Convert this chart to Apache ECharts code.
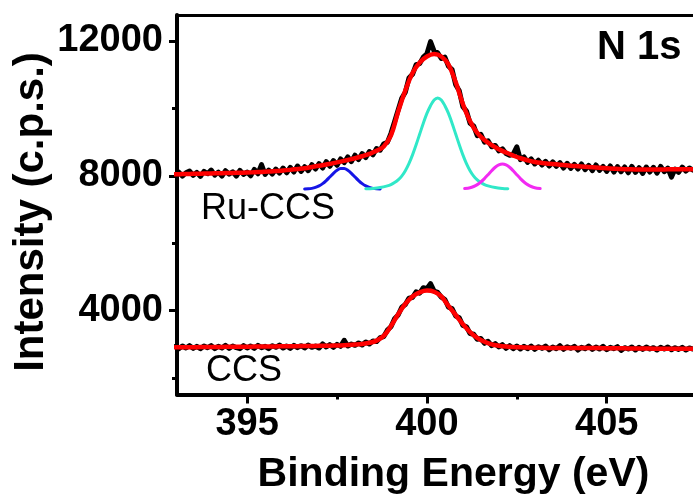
<!DOCTYPE html>
<html><head><meta charset="utf-8">
<script src="https://cdn.jsdelivr.net/npm/echarts@6/dist/echarts.min.js"></script>
<style>html,body{margin:0;padding:0;background:#fff}#c{width:693px;height:495px}</style>
</head><body><div id="c"></div>
<script>
// ---- data ----
const rawStart = 393.0, rawStep = 0.1;   // raw spectra sampling
const fitStart = 393.0, fitStep = 0.2;   // fitted envelopes sampling
const ruRaw = [8020,8110,7990,8090,8140,8010,8100,7980,8130,8060,
 8170,8020,8110,7990,8150,8050,8120,7990,8160,8040,
 8110,8000,8190,8060,8330,8040,8170,8050,8200,8080,
 8230,8090,8250,8110,8290,8130,8270,8150,8330,8200,
 8360,8230,8420,8280,8450,8310,8500,8390,8560,8420,
 8610,8480,8660,8540,8720,8620,8810,8760,8950,8990,
 9260,9600,9950,10300,10480,10900,11010,11300,11330,11520,
 11620,11980,11700,11650,11480,11520,11250,11150,10700,10520,
 10050,9920,9560,9480,9190,9230,9000,9040,8860,8900,
 8740,8800,8660,8610,8640,8860,8480,8560,8400,8500,
 8350,8460,8320,8430,8290,8410,8280,8390,8230,8370,
 8220,8340,8200,8350,8180,8310,8150,8320,8160,8280,
 8130,8290,8110,8270,8120,8260,8090,8280,8100,8240,
 8070,8260,8110,8250,8080,8280,8120,8230,7960,8200,
 8100,8260,8140,8230,8170];
const ccsRaw = [2930,2870,2950,2890,2960,2880,2940,2870,2950,2900,
 2960,2870,2940,2890,2970,2880,2950,2900,2870,2960,
 2890,2950,2880,2970,2900,2940,2870,2960,2910,2980,
 2890,2950,2880,2970,2900,2960,2890,2980,2910,2950,
 2890,3010,2920,2990,2910,3000,2940,3120,2950,3010,
 2970,3040,2980,3070,3010,3100,3080,3200,3230,3420,
 3520,3760,3870,4100,4180,4370,4390,4560,4520,4680,
 4650,4800,4580,4540,4400,4330,4100,4060,3840,3790,
 3560,3520,3320,3300,3150,3170,3030,3090,2960,3020,
 2920,2990,2880,2960,2870,2950,2860,2940,2870,2950,
 2850,2930,2880,2950,2840,2920,2870,2960,2850,2930,
 2880,2940,2830,2910,2870,2950,2850,2920,2860,2940,
 2840,2910,2870,2930,2820,2900,2860,2920,2830,2910,
 2850,2920,2860,2900,2830,2910,2860,2920,2840,2900,
 2850,2910,2830,2890,2860];
const ruFit = [8045,8050,8055,8060,8065,8070,8075,8080,8085,8090,
 8095,8105,8115,8125,8140,8155,8175,8200,8225,8260,
 8295,8335,8375,8420,8470,8520,8580,8650,8740,8870,
 9200,9900,10530,11050,11360,11540,11610,11540,11300,10780,
 10130,9620,9270,9060,8910,8790,8690,8600,8520,8460,
 8410,8380,8360,8340,8320,8300,8285,8270,8255,8240,
 8225,8212,8200,8195,8190,8190,8190,8190,8190,8195,
 8195,8195,8195];
const ccsFit = [2910,2912,2914,2916,2918,2920,2922,2924,2926,2928,
 2930,2932,2934,2936,2938,2940,2942,2945,2948,2951,
 2954,2958,2962,2968,2978,2992,3012,3045,3110,3250,
 3540,3890,4200,4420,4540,4595,4560,4420,4140,3870,
 3600,3360,3190,3075,3000,2960,2935,2920,2910,2903,
 2898,2895,2893,2892,2891,2891,2890,2889,2888,2887,
 2885,2883,2881,2879,2877,2875,2873,2871,2870,2868,
 2867,2866,2865];
const blueX = [396.6,396.7,396.8,396.9,397.0,397.1,397.2,397.3,397.4,397.5,397.6,397.7,397.8,397.9,398.0,398.1,398.2,398.3,398.4,398.5,398.6,398.7];
const blueY = [7606,7612,7627,7655,7700,7767,7859,7965,8073,8162,8213,8213,8162,8073,7965,7859,7767,7700,7655,7627,7612,7606];
const cyanX = [398.3,398.5,398.7,398.9,399.0,399.1,399.2,399.3,399.4,399.5,399.6,399.7,399.8,399.9,400.0,400.1,400.2,400.3,400.4,400.5,400.6,400.7,400.8,400.9,401.0,401.1,401.2,401.3,401.4,401.5,401.6,401.7,401.9,402.1,402.25];
const cyanY = [7615,7625,7650,7700,7740,7800,7880,7990,8150,8360,8620,8920,9240,9560,9850,10080,10250,10310,10250,10080,9850,9560,9240,8920,8620,8360,8150,7990,7880,7800,7740,7700,7650,7625,7615];
const magX = [401.05,401.2,401.3,401.4,401.5,401.6,401.7,401.8,401.9,402.0,402.1,402.2,402.3,402.4,402.5,402.6,402.7,402.8,402.9,403.0,403.15];
const magY = [7620,7645,7682,7737,7816,7916,8031,8149,8253,8325,8350,8325,8253,8149,8031,7916,7816,7737,7682,7645,7620];
const xMajor = [395, 400, 405];
const xMinor = [397.5, 402.5];
const yMajor = [4000, 8000, 12000];
const yMinor = [2000, 6000, 10000];
const xTitle = 'Binding Energy (eV)';
const yTitle = 'Intensity (c.p.s.)';
const panelLabel = 'N 1s';
const sampleLabels = ['Ru-CCS', 'CCS'];

// ---- build ----
const pairs = (start, step, ys) => ys.map((v, i) => [+(start + i * step).toFixed(3), v]);
const zip = (xs, ys) => xs.map((x, i) => [x, ys[i]]);
const XMIN = 393.05, XMAX = 407.4, YMIN = 1511, YMAX = 12770;
const FONT = '"Liberation Sans", Arial, sans-serif';

const chart = echarts.init(document.getElementById('c'), null, {renderer: 'canvas'});
const lineS = (data, color, width, smooth) => ({
  type: 'line', data, showSymbol: false, symbol: 'none', smooth: smooth || false,
  lineStyle: {color, width, join: 'round', cap: 'round'}, animation: false, silent: true
});
chart.setOption({
  animation: false,
  backgroundColor: '#fff',
  grid: {left: 177, right: 0, top: 15, bottom: 100.5},
  xAxis: [
    {type: 'value', min: XMIN, max: XMAX, position: 'bottom',
     axisLine: {show: true, lineStyle: {color: '#000', width: 4}},
     axisTick: {show: true, customValues: xMajor, length: 9, lineStyle: {color: '#000', width: 3}},
     axisLabel: {show: true, customValues: xMajor, formatter: v => String(v), color: '#000',
                 fontFamily: FONT, fontWeight: 'bold', fontSize: 38, margin: 11},
     splitLine: {show: false}},
    {type: 'value', min: XMIN, max: XMAX, position: 'bottom',
     axisLine: {show: false},
     axisTick: {show: true, customValues: xMinor, length: 5, lineStyle: {color: '#000', width: 3}},
     axisLabel: {show: false}, splitLine: {show: false}},
    {type: 'value', min: XMIN, max: XMAX, position: 'top',
     axisLine: {show: true, lineStyle: {color: '#000', width: 3}},
     axisTick: {show: false}, axisLabel: {show: false}, splitLine: {show: false}}
  ],
  yAxis: [
    {type: 'value', min: YMIN, max: YMAX, position: 'left',
     axisLine: {show: true, lineStyle: {color: '#000', width: 4}},
     axisTick: {show: true, customValues: yMajor, length: 8, lineStyle: {color: '#000', width: 3}},
     axisLabel: {show: true, customValues: yMajor, formatter: v => String(v), color: '#000',
                 fontFamily: FONT, fontWeight: 'bold', fontSize: 38, margin: 14},
     splitLine: {show: false}},
    {type: 'value', min: YMIN, max: YMAX, position: 'left',
     axisLine: {show: false},
     axisTick: {show: true, customValues: yMinor, length: 5, lineStyle: {color: '#000', width: 3}},
     axisLabel: {show: false}, splitLine: {show: false}}
  ],
  series: [
    lineS(pairs(rawStart, rawStep, ruRaw), '#000', 5),
    lineS(pairs(rawStart, rawStep, ccsRaw), '#000', 5),
    lineS(pairs(fitStart, fitStep, ruFit), '#ff0000', 4.5, 0.4),
    lineS(pairs(fitStart, fitStep, ccsFit), '#ff0000', 4.5, 0.4),
    lineS(zip(blueX, blueY), '#1515e6', 3, 0.3),
    lineS(zip(cyanX, cyanY), '#30e8c8', 3, 0.3),
    lineS(zip(magX, magY), '#f22af2', 3, 0.3)
  ],
  graphic: [
    {type: 'text', x: 597, y: 47.5, silent: true,
     style: {text: panelLabel, fill: '#000', font: 'bold 40px ' + FONT, align: 'left', verticalAlign: 'middle'}},
    {type: 'text', x: 201, y: 209.5, silent: true,
     style: {text: sampleLabels[0], fill: '#000', font: '36px ' + FONT, align: 'left', verticalAlign: 'middle'}},
    {type: 'text', x: 206, y: 371.5, silent: true,
     style: {text: sampleLabels[1], fill: '#000', font: '36px ' + FONT, align: 'left', verticalAlign: 'middle'}},
    {type: 'text', x: 453.5, y: 475, silent: true,
     style: {text: xTitle, fill: '#000', font: 'bold 41px ' + FONT, align: 'center', verticalAlign: 'middle'}},
    {type: 'text', x: 31, y: 212, rotation: Math.PI / 2, silent: true,
     style: {text: yTitle, fill: '#000', font: 'bold 42px ' + FONT, align: 'center', verticalAlign: 'middle'}}
  ]
});
</script></body></html>
